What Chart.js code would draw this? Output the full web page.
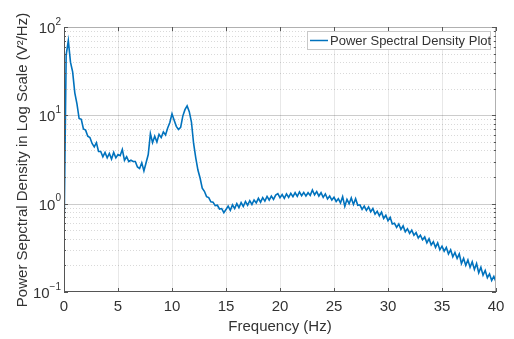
<!DOCTYPE html>
<html>
<head>
<meta charset="utf-8">
<script src="https://cdn.jsdelivr.net/npm/chart.js@4"></script>
<style>
  html, body { margin: 0; padding: 0; background: #fff; }
  canvas { display: block; }
</style>
</head>
<body>
<canvas id="psdChart" width="514" height="339"></canvas>
<script>
// frequency grid (Hz)
const freq = [
  0, 0.2, 0.4, 0.6, 0.8, 1, 1.2, 1.4, 1.6, 1.8, 2, 2.2, 2.4, 2.6, 2.8, 3, 3.2, 3.4, 3.6, 3.8,
  4, 4.2, 4.4, 4.6, 4.8, 5, 5.2, 5.4, 5.6, 5.8, 6, 6.2, 6.4, 6.6, 6.8, 7, 7.2, 7.4, 7.6, 7.8,
  8, 8.2, 8.4, 8.6, 8.8, 9, 9.2, 9.4, 9.6, 9.8, 10, 10.2, 10.4, 10.6, 10.8, 11, 11.2, 11.4, 11.6, 11.8,
  12, 12.2, 12.4, 12.6, 12.8, 13, 13.2, 13.4, 13.6, 13.8, 14, 14.2, 14.4, 14.6, 14.8, 15, 15.2, 15.4, 15.6, 15.8,
  16, 16.2, 16.4, 16.6, 16.8, 17, 17.2, 17.4, 17.6, 17.8, 18, 18.2, 18.4, 18.6, 18.8, 19, 19.2, 19.4, 19.6, 19.8,
  20, 20.2, 20.4, 20.6, 20.8, 21, 21.2, 21.4, 21.6, 21.8, 22, 22.2, 22.4, 22.6, 22.8, 23, 23.2, 23.4, 23.6, 23.8,
  24, 24.2, 24.4, 24.6, 24.8, 25, 25.2, 25.4, 25.6, 25.8, 26, 26.2, 26.4, 26.6, 26.8, 27, 27.2, 27.4, 27.6, 27.8,
  28, 28.2, 28.4, 28.6, 28.8, 29, 29.2, 29.4, 29.6, 29.8, 30, 30.2, 30.4, 30.6, 30.8, 31, 31.2, 31.4, 31.6, 31.8,
  32, 32.2, 32.4, 32.6, 32.8, 33, 33.2, 33.4, 33.6, 33.8, 34, 34.2, 34.4, 34.6, 34.8, 35, 35.2, 35.4, 35.6, 35.8,
  36, 36.2, 36.4, 36.6, 36.8, 37, 37.2, 37.4, 37.6, 37.8, 38, 38.2, 38.4, 38.6, 38.8, 39, 39.2, 39.4, 39.6, 39.8,
  40
];

// power spectral density (V^2/Hz)
const psd = [
  0.4, 48, 70, 40, 31, 18, 13.5, 9.2, 9.0, 7.0, 6.8, 5.8, 5.6, 4.8, 4.4, 4.9, 3.9, 3.9, 3.4, 3.8,
  3.3, 3.7, 3.2, 3.8, 3.3, 3.6, 3.5, 4.1, 3.1, 3.4, 3.0, 3.1, 3.0, 3.0, 2.6, 2.5, 2.9, 2.35, 2.9, 3.6,
  6.2, 4.9, 5.8, 5.0, 6.1, 5.6, 6.5, 6.0, 7.2, 8.3, 10.4, 8.8, 7.5, 6.9, 7.3, 9.8, 11.6, 12.8, 11.0, 8.4,
  4.8, 3.3, 2.4, 1.95, 1.5, 1.38, 1.2, 1.17, 1.05, 1.04, 0.95, 0.96, 0.87, 0.88, 0.79, 0.86, 0.94, 0.84, 0.97, 0.88,
  1.0, 0.9, 1.03, 0.93, 1.06, 0.96, 1.08, 0.98, 1.1, 1.02, 1.15, 1.04, 1.17, 1.07, 1.21, 1.1, 1.22, 1.12, 1.25, 1.3,
  1.17, 1.27, 1.15, 1.29, 1.18, 1.31, 1.2, 1.33, 1.21, 1.36, 1.23, 1.34, 1.22, 1.33, 1.24, 1.43, 1.26, 1.37, 1.22, 1.33,
  1.18, 1.29, 1.13, 1.22, 1.1, 1.18, 1.06, 1.14, 1.02, 1.2, 0.93, 1.12, 1.0, 1.16, 0.98, 1.14, 0.96, 0.97, 0.86, 0.94,
  0.84, 0.92, 0.81, 0.88, 0.76, 0.82, 0.73, 0.8, 0.68, 0.74, 0.64, 0.7, 0.59, 0.6, 0.54, 0.59, 0.51, 0.56, 0.48, 0.52,
  0.46, 0.5, 0.44, 0.47, 0.41, 0.44, 0.39, 0.42, 0.36, 0.4, 0.34, 0.37, 0.32, 0.36, 0.3, 0.33, 0.29, 0.32, 0.27, 0.3,
  0.25, 0.28, 0.24, 0.27, 0.21, 0.24, 0.2, 0.23, 0.19, 0.22, 0.18, 0.21, 0.165, 0.19, 0.155, 0.175, 0.145, 0.16, 0.135, 0.15,
  0.13
];

const xTicks = [0, 5, 10, 15, 20, 25, 30, 35, 40];
const yExponents = [-1, 0, 1, 2];
const yMinor = [2, 3, 4, 5, 6, 7, 8, 9];

const seriesLabel = 'Power Spectral Density Plot';
const xTitle = 'Frequency (Hz)';
const yTitle = 'Power Sepctral Density in Log Scale (V²/Hz)';

const lineColor = '#0072BD';
const textColor = '#333333';
const fontName = '"Liberation Sans", Arial, sans-serif';

// grid, box, ticks, labels and legend drawn MATLAB style
const matlabAxes = {
  id: 'matlabAxes',
  beforeDatasetsDraw(chart) {
    const ctx = chart.ctx;
    const { left, right, top, bottom } = chart.chartArea;
    const xs = chart.scales.x;
    const ys = chart.scales.y;
    ctx.save();
    ctx.lineWidth = 1;

    // minor y grid (dotted)
    ctx.strokeStyle = 'rgba(0,0,0,0.15)';
    ctx.setLineDash([1, 2]);
    yExponents.slice(0, -1).forEach(e => {
      yMinor.forEach(m => {
        const y = Math.round(ys.getPixelForValue(m * Math.pow(10, e))) + 0.5;
        ctx.beginPath();
        ctx.moveTo(left, y);
        ctx.lineTo(right, y);
        ctx.stroke();
      });
    });
    ctx.setLineDash([]);

    // major grid
    ctx.strokeStyle = 'rgba(0,0,0,0.09)';
    xTicks.slice(1, -1).forEach(v => {
      const x = Math.round(xs.getPixelForValue(v)) + 0.5;
      ctx.beginPath();
      ctx.moveTo(x, top);
      ctx.lineTo(x, bottom);
      ctx.stroke();
    });
    ctx.strokeStyle = 'rgba(0,0,0,0.2)';
    yExponents.slice(1, -1).forEach(e => {
      const y = Math.round(ys.getPixelForValue(Math.pow(10, e))) + 0.5;
      ctx.beginPath();
      ctx.moveTo(left, y);
      ctx.lineTo(right, y);
      ctx.stroke();
    });
    ctx.restore();
  },
  afterDatasetsDraw(chart) {
    const ctx = chart.ctx;
    const { left, right, top, bottom } = chart.chartArea;
    const xs = chart.scales.x;
    const ys = chart.scales.y;
    ctx.save();

    // axes box
    ctx.lineWidth = 1;
    ctx.strokeStyle = '#b0b0b0';
    ctx.beginPath();
    ctx.moveTo(left + 0.5, top + 0.5);
    ctx.lineTo(right - 0.5, top + 0.5);
    ctx.lineTo(right - 0.5, bottom - 0.5);
    ctx.stroke();
    ctx.strokeStyle = '#555';
    ctx.beginPath();
    ctx.moveTo(left + 0.5, top);
    ctx.lineTo(left + 0.5, bottom - 0.5);
    ctx.lineTo(right, bottom - 0.5);
    ctx.stroke();

    // tick marks, inward on all sides
    ctx.strokeStyle = '#555';
    xTicks.forEach(v => {
      const x = Math.round(xs.getPixelForValue(v)) + 0.5;
      ctx.beginPath();
      ctx.moveTo(x, bottom);
      ctx.lineTo(x, bottom - 4);
      ctx.moveTo(x, top);
      ctx.lineTo(x, top + 4);
      ctx.stroke();
    });
    yExponents.forEach((e, i) => {
      const y = Math.round(ys.getPixelForValue(Math.pow(10, e))) + 0.5;
      ctx.beginPath();
      ctx.moveTo(left, y);
      ctx.lineTo(left + 4, y);
      ctx.moveTo(right, y);
      ctx.lineTo(right - 4, y);
      ctx.stroke();
      if (i < yExponents.length - 1) {
        yMinor.forEach(m => {
          const ym = Math.round(ys.getPixelForValue(m * Math.pow(10, e))) + 0.5;
          ctx.beginPath();
          ctx.moveTo(left, ym);
          ctx.lineTo(left + 2, ym);
          ctx.moveTo(right, ym);
          ctx.lineTo(right - 2, ym);
          ctx.stroke();
        });
      }
    });

    // x tick labels
    ctx.fillStyle = textColor;
    ctx.font = '15px ' + fontName;
    ctx.textAlign = 'center';
    ctx.textBaseline = 'middle';
    xTicks.forEach(v => {
      ctx.fillText(String(v), xs.getPixelForValue(v), bottom + 15);
    });

    // y tick labels: 10 with superscript exponent
    ctx.textAlign = 'left';
    yExponents.forEach(e => {
      const y = ys.getPixelForValue(Math.pow(10, e));
      const exp = String(e).replace('-', '\u2212');
      ctx.font = '15px ' + fontName;
      const wBase = ctx.measureText('10').width;
      ctx.font = '10px ' + fontName;
      const wExp = ctx.measureText(exp).width;
      const x0 = left - 3 - wBase - wExp;
      ctx.font = '15px ' + fontName;
      ctx.fillText('10', x0, y + 2);
      ctx.font = '10px ' + fontName;
      ctx.fillText(exp, x0 + wBase, y - 5);
    });

    // axis titles
    ctx.font = '15px ' + fontName;
    ctx.textAlign = 'center';
    ctx.fillText(xTitle, (left + right) / 2, 327);
    ctx.save();
    ctx.translate(23, 160);
    ctx.rotate(-Math.PI / 2);
    ctx.fillText(yTitle, 0, 0);
    ctx.restore();

    // legend
    const lx = 307.5, ly = 31.5, lw = 183, lh = 18;
    ctx.fillStyle = '#fff';
    ctx.fillRect(lx, ly, lw, lh);
    ctx.strokeStyle = '#c8c8c8';
    ctx.strokeRect(lx, ly, lw, lh);
    ctx.strokeStyle = lineColor;
    ctx.lineWidth = 1.5;
    ctx.beginPath();
    ctx.moveTo(310, ly + lh / 2);
    ctx.lineTo(328, ly + lh / 2);
    ctx.stroke();
    ctx.fillStyle = textColor;
    ctx.font = '13px ' + fontName;
    ctx.textAlign = 'left';
    ctx.fillText(seriesLabel, 330, ly + lh / 2 + 0.5);

    ctx.restore();
  }
};

new Chart(document.getElementById('psdChart').getContext('2d'), {
  type: 'line',
  data: {
    datasets: [{
      label: seriesLabel,
      data: freq.map((f, i) => ({ x: f, y: psd[i] })),
      borderColor: lineColor,
      borderWidth: 1.6,
      pointRadius: 0,
      tension: 0,
      fill: false
    }]
  },
  options: {
    responsive: false,
    animation: false,
    layout: { padding: { top: 27, right: 18, left: 0, bottom: 0 } },
    plugins: {
      legend: { display: false },
      tooltip: { enabled: false }
    },
    scales: {
      x: {
        type: 'linear',
        min: 0,
        max: 40,
        ticks: { display: false },
        grid: { display: false },
        border: { display: false },
        afterFit(scale) { scale.height = 47; }
      },
      y: {
        type: 'logarithmic',
        min: 0.1,
        max: 100,
        ticks: { display: false },
        grid: { display: false },
        border: { display: false },
        afterFit(scale) { scale.width = 64; }
      }
    }
  },
  plugins: [matlabAxes]
});
</script>
</body>
</html>
